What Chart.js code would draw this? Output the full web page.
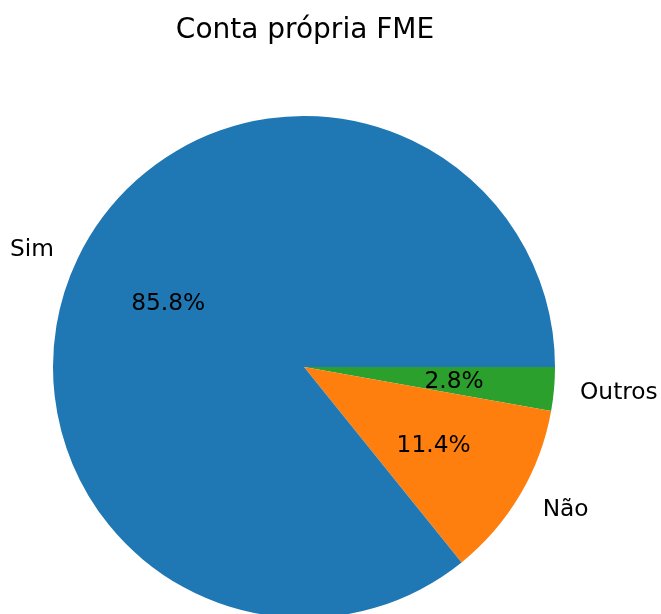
<!DOCTYPE html>
<html lang="pt">
<head>
    <meta charset="UTF-8">
    <title>Conta própria FME</title>
    <style>
        html, body {
            margin: 0;
            padding: 0;
            background: #fff;
            overflow: hidden;
        }
        #pieChart {
            display: block;
        }
    </style>
</head>
<body>
    <canvas id="pieChart" width="661" height="620"></canvas>

    <script src="https://cdn.jsdelivr.net/npm/chart.js"></script>
    <script>
    // dados (ordem do matplotlib: anti-horário a partir das 3 horas)
    const chartTitle = 'Conta própria FME';
    const categorias = ['Sim', 'Não', 'Outros'];
    const percentuais = [85.8, 11.4, 2.8];
    const cores = ['#1f77b4', '#ff7f0e', '#2ca02c'];

    // Chart.js desenha no sentido horário, então invertemos a ordem
    const labelsCJ = categorias.slice().reverse();
    const dadosCJ = percentuais.slice().reverse();
    const coresCJ = cores.slice().reverse();

    const FONT = '"DejaVu Sans", sans-serif';

    const textosPlugin = {
        id: 'textos',
        afterDraw(chart) {
            const ctx = chart.ctx;
            const meta = chart.getDatasetMeta(0);
            ctx.save();
            ctx.fillStyle = '#000';
            ctx.textBaseline = 'middle';

            // título
            ctx.font = '28px ' + FONT;
            ctx.textAlign = 'center';
            ctx.fillText(chartTitle, 305, 31);

            ctx.font = '23.3px ' + FONT;
            meta.data.forEach((arc, i) => {
                const p = arc.getProps(['x', 'y', 'startAngle', 'endAngle', 'outerRadius'], true);
                const mid = (p.startAngle + p.endAngle) / 2;
                const c = Math.cos(mid), s = Math.sin(mid);

                // percentual dentro da fatia
                ctx.textAlign = 'center';
                ctx.fillText(dadosCJ[i].toFixed(1) + '%', p.x + 0.6 * p.outerRadius * c, p.y + 0.6 * p.outerRadius * s + 2);

                // rótulo fora
                ctx.textAlign = c >= 0 ? 'left' : 'right';
                ctx.fillText(labelsCJ[i], p.x + 1.1 * p.outerRadius * c + (c >= 0 ? 1 : -1), p.y + 1.1 * p.outerRadius * s + 2);
            });
            ctx.restore();
        }
    };

    const ctx = document.getElementById('pieChart').getContext('2d');
    new Chart(ctx, {
        type: 'pie',
        data: {
            labels: labelsCJ,
            datasets: [{
                data: dadosCJ,
                backgroundColor: coresCJ,
                borderWidth: 0
            }]
        },
        options: {
            responsive: false,
            animation: false,
            rotation: 90,
            layout: {
                padding: { left: 53, right: 106, top: 116, bottom: 2 }
            },
            plugins: {
                legend: { display: false },
                tooltip: { enabled: false },
                title: { display: false }
            }
        },
        plugins: [textosPlugin]
    });
    </script>
</body>
</html>
